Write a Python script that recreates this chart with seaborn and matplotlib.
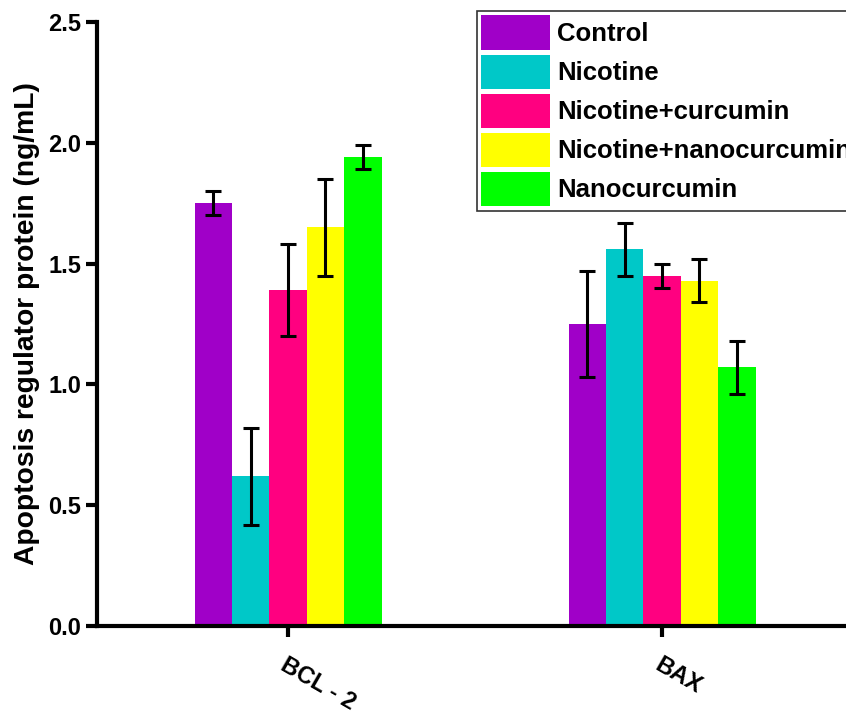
import matplotlib
matplotlib.use("Agg")
import matplotlib.pyplot as plt
import seaborn as sns
import pandas as pd
import numpy as np

categories = ["BCL - 2", "BAX"]
groups = ["Control", "Nicotine", "Nicotine+curcumin", "Nicotine+nanocurcumin", "Nanocurcumin"]
colors = ["#A000C8", "#00C8C8", "#FF0080", "#FFFF00", "#00FF00"]
bcl2_vals = [1.75, 0.62, 1.39, 1.65, 1.94]
bcl2_err = [0.05, 0.20, 0.19, 0.20, 0.05]
bax_vals = [1.25, 1.56, 1.45, 1.43, 1.07]
bax_err = [0.22, 0.11, 0.05, 0.09, 0.11]

rows = []
for g, v1, e1, v2, e2 in zip(groups, bcl2_vals, bcl2_err, bax_vals, bax_err):
    rows.append({"cat": categories[0], "grp": g, "val": v1, "err": e1})
    rows.append({"cat": categories[1], "grp": g, "val": v2, "err": e2})
df = pd.DataFrame(rows)

sns.set_style("ticks")
plt.rcParams["font.family"] = ["Liberation Sans", "DejaVu Sans"]
plt.rcParams["font.weight"] = "bold"
plt.rcParams["text.color"] = "black"
plt.rcParams["axes.labelcolor"] = "black"
plt.rcParams["xtick.color"] = "black"
plt.rcParams["ytick.color"] = "black"

fig = plt.figure(figsize=(8.46, 7.15), dpi=100)
ax = fig.add_axes([97 / 846, 89 / 715, 1 - 97 / 846, 604 / 715])

sns.barplot(data=df, x="cat", y="val", hue="grp", order=categories, hue_order=groups,
            palette=colors, width=0.5, gap=0, errorbar=None, linewidth=0, saturation=1,
            ax=ax, legend=True)

# error bars from bar patches
for grp, cont in zip(groups, ax.containers):
    sub = df[df["grp"] == grp].set_index("cat").loc[categories]
    for bar, (_, r) in zip(cont.patches, sub.iterrows()):
        xc = bar.get_x() + bar.get_width() / 2
        ax.errorbar(xc, r["val"], yerr=r["err"], fmt="none", ecolor="black",
                    elinewidth=2.2, capsize=6, capthick=2.2, zorder=5)

ax.set_xlim(-0.511, 1.492)
ax.set_ylim(0, 2.5)
ax.set_yticks([0, 0.5, 1.0, 1.5, 2.0, 2.5])
ax.set_yticklabels(["0.0", "0.5", "1.0", "1.5", "2.0", "2.5"])
ax.set_xlabel("")
ax.set_ylabel("Apoptosis regulator protein (ng/mL)", fontsize=20.3, fontweight="bold",
              labelpad=6, color="black")

for s in ["top", "right"]:
    ax.spines[s].set_visible(False)
for s in ["left", "bottom"]:
    ax.spines[s].set_linewidth(3)
    ax.spines[s].set_color("black")
ax.tick_params(axis="both", direction="out", length=8, width=3, colors="black", labelsize=17)
ax.tick_params(axis="x", pad=12)
for lab in ax.get_yticklabels():
    lab.set_fontweight("bold")
plt.setp(ax.get_xticklabels(), rotation=-30, ha="left", rotation_mode="anchor",
         fontweight="bold", fontsize=17)
for lab in ax.get_xticklabels():
    lab.set_x(lab.get_position()[0] - 0.04)

leg = ax.legend(loc="upper left", bbox_to_anchor=(0.507, 1.018), frameon=True,
                fancybox=False, edgecolor="#333333", framealpha=1,
                prop={"weight": "bold", "size": 18.5}, handlelength=2.68, handleheight=1.70,
                labelspacing=0.17, handletextpad=0.27, borderpad=0.17, borderaxespad=0)
leg.get_frame().set_linewidth(1.2)
for t in leg.get_texts():
    t.set_color("black")

fig.savefig("out.png", dpi=100)
